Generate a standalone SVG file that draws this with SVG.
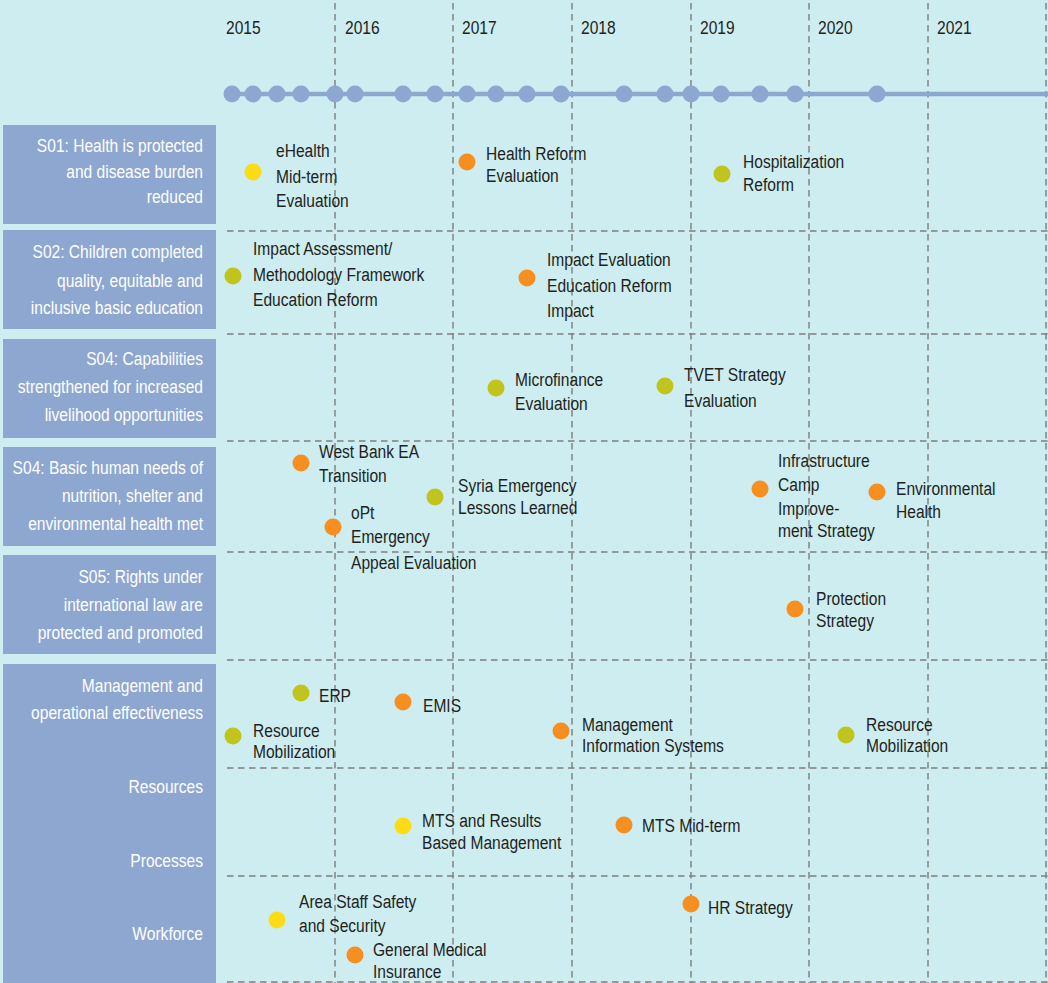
<svg xmlns="http://www.w3.org/2000/svg" width="1048" height="983" viewBox="0 0 1048 983">
<style>
text{font-family:"Liberation Sans",Arial,sans-serif;font-size:19px;fill:#231f20}
.lbl{fill:#ffffff;text-anchor:end}
.box{fill:#8ea7d1}
.grid{stroke:#7d7d7d;stroke-width:1.4;stroke-dasharray:6.5 4.5;fill:none}
.tl{fill:#8ea7d1}
.or{fill:#f68f1f}
.ol{fill:#c1c41c}
.ye{fill:#fddc16}
</style>
<rect width="1048" height="983" fill="#cdedf0"/>
<g id="grid">
<path class="grid" d="M335 3V983M453 3V983M572 3V983M691 3V983M809 3V983M928 3V983M1046 3V983"/>
<path class="grid" d="M227 231H1048M227 334H1048M227 441H1048M227 552H1048M227 660H1048M227 768H1048M227 876H1048M227 982H1048"/>
</g>
<g id="years">
<g transform="translate(226 0) scale(.82 1)"><text y="34">2015</text></g>
<g transform="translate(345 0) scale(.82 1)"><text y="34">2016</text></g>
<g transform="translate(462 0) scale(.82 1)"><text y="34">2017</text></g>
<g transform="translate(581 0) scale(.82 1)"><text y="34">2018</text></g>
<g transform="translate(700 0) scale(.82 1)"><text y="34">2019</text></g>
<g transform="translate(818 0) scale(.82 1)"><text y="34">2020</text></g>
<g transform="translate(937 0) scale(.82 1)"><text y="34">2021</text></g>
</g>
<g id="connectors">
<line x1="232" y1="94" x2="1048" y2="94" stroke="#8ea7d1" stroke-width="4.5"/>
<g class="tl">
<circle cx="232" cy="94" r="8.5"/><circle cx="253" cy="94" r="8.5"/><circle cx="277" cy="94" r="8.5"/><circle cx="301" cy="94" r="8.5"/><circle cx="335" cy="94" r="8.5"/><circle cx="355" cy="94" r="8.5"/><circle cx="403" cy="94" r="8.5"/><circle cx="435" cy="94" r="8.5"/><circle cx="467" cy="94" r="8.5"/><circle cx="496" cy="94" r="8.5"/><circle cx="527" cy="94" r="8.5"/><circle cx="561" cy="94" r="8.5"/><circle cx="624" cy="94" r="8.5"/><circle cx="665" cy="94" r="8.5"/><circle cx="691" cy="94" r="8.5"/><circle cx="721" cy="94" r="8.5"/><circle cx="760" cy="94" r="8.5"/><circle cx="795" cy="94" r="8.5"/><circle cx="877" cy="94" r="8.5"/>
</g>
</g>
<g id="row-so1"><rect class="box" x="3" y="125" width="213" height="99"/><g transform="translate(203 0) scale(.82 1)"><text class="lbl" y="152">S01: Health is protected</text><text class="lbl" y="178">and disease burden</text><text class="lbl" y="203">reduced</text></g></g>
<g id="row-so2"><rect class="box" x="3" y="230" width="213" height="99"/><g transform="translate(203 0) scale(.82 1)"><text class="lbl" y="258">S02: Children completed</text><text class="lbl" y="287">quality, equitable and</text><text class="lbl" y="314">inclusive basic education</text></g></g>
<g id="row-so4a"><rect class="box" x="3" y="339" width="213" height="99"/><g transform="translate(203 0) scale(.82 1)"><text class="lbl" y="365">S04: Capabilities</text><text class="lbl" y="393">strengthened for increased</text><text class="lbl" y="421">livelihood opportunities</text></g></g>
<g id="row-so4b"><rect class="box" x="3" y="447" width="213" height="99"/><g transform="translate(203 0) scale(.82 1)"><text class="lbl" y="474">S04: Basic human needs of</text><text class="lbl" y="502">nutrition, shelter and</text><text class="lbl" y="530">environmental health met</text></g></g>
<g id="row-so5"><rect class="box" x="3" y="555" width="213" height="99"/><g transform="translate(203 0) scale(.82 1)"><text class="lbl" y="583">S05: Rights under</text><text class="lbl" y="611">international law are</text><text class="lbl" y="639">protected and promoted</text></g></g>
<g id="row-mgmt"><rect class="box" x="3" y="664" width="213" height="319"/><g transform="translate(203 0) scale(.82 1)"><text class="lbl" y="692">Management and</text><text class="lbl" y="719">operational effectiveness</text><text class="lbl" y="793">Resources</text><text class="lbl" y="867">Processes</text><text class="lbl" y="940">Workforce</text></g></g>

<g id="ev-ehealth"><circle class="ye" cx="253" cy="172" r="8.5"/><g transform="translate(276 0) scale(.82 1)"><text y="157">eHealth</text><text y="183">Mid-term</text><text y="207">Evaluation</text></g></g>
<g id="ev-health-reform"><circle class="or" cx="467" cy="162" r="8.5"/><g transform="translate(486 0) scale(.82 1)"><text y="160">Health Reform</text><text y="182">Evaluation</text></g></g>
<g id="ev-hospitalization"><circle class="ol" cx="722" cy="174" r="8.5"/><g transform="translate(743 0) scale(.82 1)"><text y="168">Hospitalization</text><text y="191">Reform</text></g></g>
<g id="ev-impact-assessment"><circle class="ol" cx="233" cy="276" r="8.5"/><g transform="translate(253 0) scale(.82 1)"><text y="255">Impact Assessment/</text><text y="281">Methodology Framework</text><text y="306">Education Reform</text></g></g>
<g id="ev-impact-evaluation"><circle class="or" cx="527" cy="278" r="8.5"/><g transform="translate(547 0) scale(.82 1)"><text y="266">Impact Evaluation</text><text y="292">Education Reform</text><text y="317">Impact</text></g></g>
<g id="ev-microfinance"><circle class="ol" cx="496" cy="388" r="8.5"/><g transform="translate(515 0) scale(.82 1)"><text y="386">Microfinance</text><text y="410">Evaluation</text></g></g>
<g id="ev-tvet"><circle class="ol" cx="665" cy="386" r="8.5"/><g transform="translate(684 0) scale(.82 1)"><text y="381">TVET Strategy</text><text y="407">Evaluation</text></g></g>
<g id="ev-west-bank"><circle class="or" cx="301" cy="463" r="8.5"/><g transform="translate(319 0) scale(.82 1)"><text y="458">West Bank EA</text><text y="482">Transition</text></g></g>
<g id="ev-opt"><circle class="or" cx="333" cy="527" r="8.5"/><g transform="translate(351 0) scale(.82 1)"><text y="519">oPt</text><text y="543">Emergency</text><text y="569">Appeal Evaluation</text></g></g>
<g id="ev-syria"><circle class="ol" cx="435" cy="497" r="8.5"/><g transform="translate(458 0) scale(.82 1)"><text y="492">Syria Emergency</text><text y="514">Lessons Learned</text></g></g>
<g id="ev-infrastructure"><circle class="or" cx="760" cy="489" r="8.5"/><g transform="translate(778 0) scale(.82 1)"><text y="467">Infrastructure</text><text y="491">Camp</text><text y="515">Improve-</text><text y="537">ment Strategy</text></g></g>
<g id="ev-environmental"><circle class="or" cx="877" cy="492" r="8.5"/><g transform="translate(896 0) scale(.82 1)"><text y="495">Environmental</text><text y="518">Health</text></g></g>
<g id="ev-protection"><circle class="or" cx="795" cy="609" r="8.5"/><g transform="translate(816 0) scale(.82 1)"><text y="605">Protection</text><text y="627">Strategy</text></g></g>
<g id="ev-erp"><circle class="ol" cx="301" cy="693" r="8.5"/><g transform="translate(319 0) scale(.82 1)"><text y="702">ERP</text></g></g>
<g id="ev-emis"><circle class="or" cx="403" cy="702" r="8.5"/><g transform="translate(423 0) scale(.82 1)"><text y="712">EMIS</text></g></g>
<g id="ev-resource-mob-1"><circle class="ol" cx="233" cy="736" r="8.5"/><g transform="translate(253 0) scale(.82 1)"><text y="737">Resource</text><text y="758">Mobilization</text></g></g>
<g id="ev-mis"><circle class="or" cx="561" cy="731" r="8.5"/><g transform="translate(582 0) scale(.82 1)"><text y="731">Management</text><text y="752">Information Systems</text></g></g>
<g id="ev-resource-mob-2"><circle class="ol" cx="846" cy="735" r="8.5"/><g transform="translate(866 0) scale(.82 1)"><text y="731">Resource</text><text y="752">Mobilization</text></g></g>
<g id="ev-mts-rbm"><circle class="ye" cx="403" cy="826" r="8.5"/><g transform="translate(422 0) scale(.82 1)"><text y="827">MTS and Results</text><text y="849">Based Management</text></g></g>
<g id="ev-mts-midterm"><circle class="or" cx="624" cy="825" r="8.5"/><g transform="translate(642 0) scale(.82 1)"><text y="832">MTS Mid-term</text></g></g>
<g id="ev-hr"><circle class="or" cx="691" cy="904" r="8.5"/><g transform="translate(708 0) scale(.82 1)"><text y="914">HR Strategy</text></g></g>
<g id="ev-area-staff"><circle class="ye" cx="277" cy="920" r="8.5"/><g transform="translate(299 0) scale(.82 1)"><text y="908">Area Staff Safety</text><text y="932">and Security</text></g></g>
<g id="ev-gmi"><circle class="or" cx="355" cy="955" r="8.5"/><g transform="translate(373 0) scale(.82 1)"><text y="956">General Medical</text><text y="978">Insurance</text></g></g>
</svg>
